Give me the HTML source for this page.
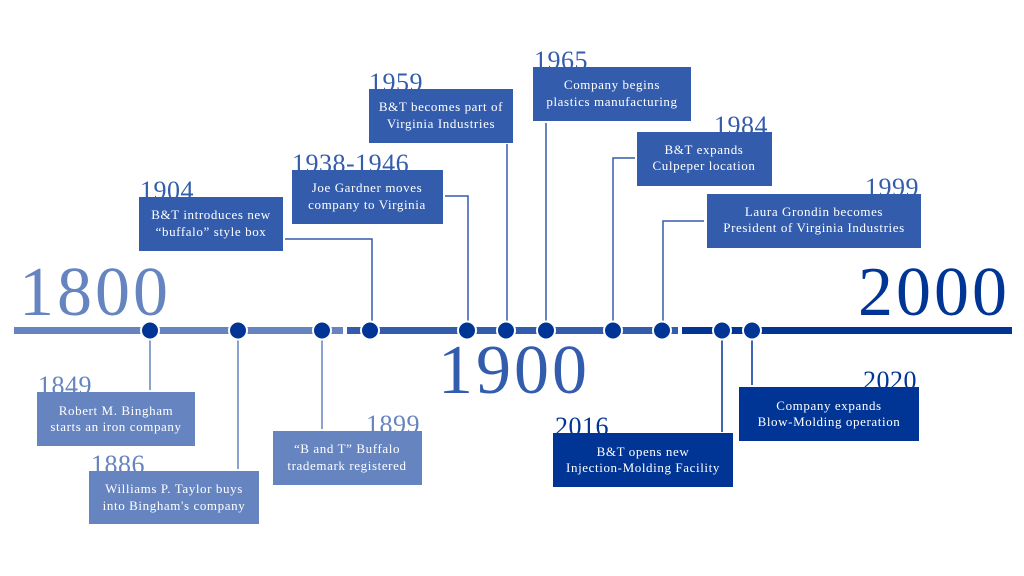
<!DOCTYPE html>
<html><head><meta charset="utf-8"><style>
html,body{margin:0;padding:0;background:#fff;width:1024px;height:576px;overflow:hidden}
svg{display:block}
.big{font-family:"Liberation Serif",serif;font-size:70px;letter-spacing:3px}
.yr{font-family:"Liberation Serif",serif;font-size:26px;letter-spacing:0.5px}
.bt{font-family:"Liberation Serif",serif;font-size:13px;fill:#fff;text-anchor:middle;letter-spacing:0.6px}
.ln{stroke-width:1.5;fill:none}
</style></head><body>
<svg width="1024" height="576" viewBox="0 0 1024 576" xmlns="http://www.w3.org/2000/svg">
<text class="big" x="19" y="315" fill="#6584c0">1800</text>
<text class="big" x="438" y="393" fill="#335dac">1900</text>
<text class="big" x="1010" y="315" fill="#003595" text-anchor="end">2000</text>

<rect x="14" y="327" width="329" height="7" fill="#6584c0"/>
<rect x="347" y="327" width="331" height="7" fill="#335dac"/>
<rect x="682" y="327" width="330" height="7" fill="#003595"/>

<g class="ln" stroke="#6584c0">
<line x1="150" y1="338" x2="150" y2="390"/>
<line x1="238" y1="338" x2="238" y2="469"/>
<line x1="322" y1="338" x2="322" y2="429"/>
</g>
<g class="ln" stroke="#335dac">
<polyline points="285,239 372,239 372,325"/>
<polyline points="445,196 468,196 468,325"/>
<line x1="507" y1="144" x2="507" y2="325"/>
<line x1="546" y1="123" x2="546" y2="325"/>
<polyline points="635,158 613,158 613,325"/>
<polyline points="704,221 663,221 663,325"/>
</g>
<g class="ln" stroke="#003595">
<line x1="722" y1="338" x2="722" y2="432"/>
<line x1="752" y1="338" x2="752" y2="385"/>
</g>

<g fill="#003595" stroke="#fff" stroke-width="2">
<circle cx="150" cy="330.5" r="9"/>
<circle cx="238" cy="330.5" r="9"/>
<circle cx="322" cy="330.5" r="9"/>
<circle cx="370" cy="330.5" r="9"/>
<circle cx="467" cy="330.5" r="9"/>
<circle cx="506" cy="330.5" r="9"/>
<circle cx="546" cy="330.5" r="9"/>
<circle cx="613" cy="330.5" r="9"/>
<circle cx="662" cy="330.5" r="9"/>
<circle cx="722" cy="330.5" r="9"/>
<circle cx="752" cy="330.5" r="9"/>
</g>

<rect x="37" y="392" width="158" height="54" fill="#6584c0"/>
<text class="yr" x="38" y="394" fill="#6584c0">1849</text>
<text class="bt" x="116" y="415">Robert M. Bingham</text>
<text class="bt" x="116" y="431">starts an iron company</text>

<rect x="89" y="471" width="170" height="53" fill="#6584c0"/>
<text class="yr" x="91" y="473" fill="#6584c0">1886</text>
<text class="bt" x="174" y="493">Williams P. Taylor buys</text>
<text class="bt" x="174" y="510">into Bingham's company</text>

<rect x="273" y="431" width="149" height="54" fill="#6584c0"/>
<text class="yr" x="420" y="433" fill="#6584c0" text-anchor="end">1899</text>
<text class="bt" x="347" y="453">“B and T” Buffalo</text>
<text class="bt" x="347" y="470">trademark registered</text>

<rect x="139" y="197" width="144" height="54" fill="#335dac"/>
<text class="yr" x="140" y="199" fill="#335dac">1904</text>
<text class="bt" x="211" y="219">B&amp;T introduces new</text>
<text class="bt" x="211" y="236">“buffalo” style box</text>

<rect x="292" y="170" width="151" height="54" fill="#335dac"/>
<text class="yr" x="292" y="172" fill="#335dac">1938-1946</text>
<text class="bt" x="367" y="192">Joe Gardner moves</text>
<text class="bt" x="367" y="209">company to Virginia</text>

<rect x="369" y="89" width="144" height="54" fill="#335dac"/>
<text class="yr" x="369" y="91" fill="#335dac">1959</text>
<text class="bt" x="441" y="111">B&amp;T becomes part of</text>
<text class="bt" x="441" y="128">Virginia Industries</text>

<rect x="533" y="67" width="158" height="54" fill="#335dac"/>
<text class="yr" x="534" y="69" fill="#335dac">1965</text>
<text class="bt" x="612" y="89">Company begins</text>
<text class="bt" x="612" y="106">plastics manufacturing</text>

<rect x="637" y="132" width="135" height="54" fill="#335dac"/>
<text class="yr" x="768" y="134" fill="#335dac" text-anchor="end">1984</text>
<text class="bt" x="704" y="154">B&amp;T expands</text>
<text class="bt" x="704" y="170">Culpeper location</text>

<rect x="707" y="194" width="214" height="54" fill="#335dac"/>
<text class="yr" x="919" y="196" fill="#335dac" text-anchor="end">1999</text>
<text class="bt" x="814" y="216">Laura Grondin becomes</text>
<text class="bt" x="814" y="232">President of Virginia Industries</text>

<rect x="553" y="433" width="180" height="54" fill="#003595"/>
<text class="yr" x="555" y="435" fill="#003595">2016</text>
<text class="bt" x="643" y="456">B&amp;T opens new</text>
<text class="bt" x="643" y="472">Injection-Molding Facility</text>

<rect x="739" y="387" width="180" height="54" fill="#003595"/>
<text class="yr" x="917" y="389" fill="#003595" text-anchor="end">2020</text>
<text class="bt" x="829" y="410">Company expands</text>
<text class="bt" x="829" y="426">Blow-Molding operation</text>
</svg>
</body></html>
